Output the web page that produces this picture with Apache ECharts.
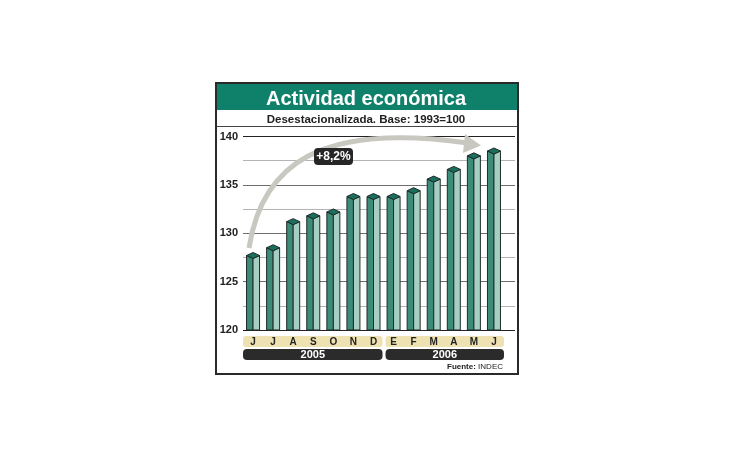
<!DOCTYPE html>
<html lang="es">
<head>
    <meta charset="UTF-8">
    <title>Actividad económica</title>
    <script src="https://cdn.jsdelivr.net/npm/echarts@6/dist/echarts.min.js"></script>
    <style>
        html, body { margin: 0; padding: 0; background: #fff; }
        #main { width: 730px; height: 460px; }
    </style>
</head>
<body>
<div id="main"></div>
<script type="text/javascript">
    // datos
    var meses = ['J', 'J', 'A', 'S', 'O', 'N', 'D', 'E', 'F', 'M', 'A', 'M', 'J'];
    var valores = [127.7, 128.5, 131.2, 131.8, 132.2, 133.8, 133.8, 133.8, 134.4, 135.6, 136.6, 138.0, 138.5];
    var anios = ['2005', '2006'];
    var mesesPorAnio = [7, 6];
    var yMin = 120, yMax = 140, yPaso = 5;

    var myChart = echarts.init(document.getElementById('main'));

    var fontNarrow = '"Liberation Sans Narrow", "Arial Narrow", Arial, sans-serif';
    var verdeOscuro = '#3d8b79', verdeClaro = '#a6cec2', verdeTapa = '#19705e', borde = '#1f2b28';

    function renderBar(params, api) {
        var top = api.coord([api.value(0), api.value(1)]);
        var base = api.coord([api.value(0), yMin]);
        var x = top[0], ty = top[1], by = base[1];
        var hw = 6.5, d = 3;
        return {
            type: 'group',
            children: [
                {
                    type: 'polygon',
                    shape: { points: [[x - hw, ty], [x, ty + d], [x, by], [x - hw, by]] },
                    style: { fill: verdeOscuro, stroke: borde, lineWidth: 1 }
                },
                {
                    type: 'polygon',
                    shape: { points: [[x, ty + d], [x + hw, ty], [x + hw, by], [x, by]] },
                    style: { fill: verdeClaro, stroke: borde, lineWidth: 1 }
                },
                {
                    type: 'polygon',
                    shape: { points: [[x - hw, ty], [x, ty - d], [x + hw, ty], [x, ty + d]] },
                    style: { fill: verdeTapa, stroke: borde, lineWidth: 1 }
                }
            ]
        };
    }

    // bandas de meses y de años
    var bandas = [];
    var x0 = 243, anchoCat = 261 / meses.length, acum = 0;
    for (var i = 0; i < anios.length; i++) {
        var xa = x0 + acum * anchoCat + (i > 0 ? 2 : 0);
        var w = mesesPorAnio[i] * anchoCat - (i > 0 ? 2 : 1);
        bandas.push({
            type: 'rect', z: 0,
            shape: { x: xa, y: 336, width: w, height: 11, r: 3 },
            style: { fill: '#eee2b3' }
        });
        bandas.push({
            type: 'rect', z: 0,
            shape: { x: xa, y: 349, width: w, height: 11, r: 4 },
            style: { fill: '#2b2b2b' }
        });
        bandas.push({
            type: 'text', z: 1,
            x: xa + w / 2, y: 354.5,
            style: {
                text: anios[i], fill: '#fff', font: 'bold 11px Arial, sans-serif',
                align: 'center', verticalAlign: 'middle'
            }
        });
        acum += mesesPorAnio[i];
    }

    var option = {
        backgroundColor: '#fff',
        animation: false,
        title: [
            {
                text: 'Actividad económica',
                left: 366, top: 89, textAlign: 'center', padding: 0,
                textStyle: { color: '#fff', fontSize: 20, fontWeight: 'bold', fontFamily: 'Arial, sans-serif' }
            },
            {
                text: 'Desestacionalizada. Base: 1993=100',
                left: 366, top: 113.5, textAlign: 'center', padding: 0,
                textStyle: { color: '#222', fontSize: 11.5, fontWeight: 'bold', fontFamily: 'Arial, sans-serif' }
            }
        ],
        grid: [
            { left: 243, width: 272, top: 136.5, height: 193.5 },
            { left: 243, width: 261, top: 136.5, height: 193.5 }
        ],
        xAxis: [
            { gridIndex: 0, type: 'value', min: 0, max: 1, show: false },
            {
                gridIndex: 1, type: 'category', data: meses,
                axisLine: { show: false }, axisTick: { show: false },
                axisLabel: {
                    margin: 7, color: '#222', fontSize: 10, fontWeight: 'bold',
                    fontFamily: 'Arial, sans-serif'
                }
            }
        ],
        yAxis: [
            {
                gridIndex: 0, type: 'value', min: yMin, max: yMax, interval: yPaso,
                axisLine: { show: false }, axisTick: { show: false },
                axisLabel: {
                    margin: 5, color: '#222', fontSize: 11, fontWeight: 'bold',
                    fontFamily: fontNarrow
                },
                splitLine: { lineStyle: { color: ['#222', '#6e6e6e', '#6e6e6e', '#6e6e6e', '#222'], width: 1 } },
                minorTick: { show: false, splitNumber: 2 },
                minorSplitLine: { show: true, lineStyle: { color: '#b4b4b4', width: 1 } }
            },
            { gridIndex: 1, type: 'value', min: yMin, max: yMax, show: false }
        ],
        graphic: [
            // marco
            {
                type: 'rect', z: 0,
                shape: { x: 216, y: 83, width: 302, height: 291 },
                style: { fill: null, stroke: '#2a2a2a', lineWidth: 2 }
            },
            {
                type: 'rect', z: 0,
                shape: { x: 217, y: 84, width: 300, height: 26 },
                style: { fill: '#0f8069' }
            },
            {
                type: 'line', z: 0,
                shape: { x1: 217, y1: 126.5, x2: 517, y2: 126.5 },
                style: { stroke: '#444', lineWidth: 1 }
            },
            // flecha
            {
                type: 'bezierCurve', z: 1,
                shape: { x1: 249, y1: 248, cpx1: 262, cpy1: 163, cpx2: 322, cpy2: 122, x2: 468, y2: 143 },
                style: { stroke: '#c8c8c1', lineWidth: 5, fill: null }
            },
            {
                type: 'polygon', z: 1,
                shape: { points: [[465, 134], [481, 145.5], [463, 153]] },
                style: { fill: '#c8c8c1' }
            },
            {
                type: 'rect', z: 2,
                shape: { x: 314, y: 148, width: 39, height: 17, r: 4 },
                style: { fill: '#262626' }
            },
            {
                type: 'text', z: 3,
                x: 333.5, y: 156.5,
                style: {
                    text: '+8,2%', fill: '#fff', font: 'bold 12px Arial, sans-serif',
                    align: 'center', verticalAlign: 'middle'
                }
            },
            {
                type: 'text', z: 3,
                x: 503, y: 367,
                style: {
                    text: '{b|Fuente:} INDEC', fill: '#222', font: '8px Arial, sans-serif',
                    align: 'right', verticalAlign: 'middle',
                    rich: { b: { fontWeight: 'bold', fontSize: 8, fill: '#222' } }
                }
            }
        ].concat(bandas),
        series: [
            {
                type: 'custom',
                xAxisIndex: 1, yAxisIndex: 1,
                z: 5,
                renderItem: renderBar,
                data: valores.map(function (v, i) { return [i, v]; })
            }
        ]
    };

    myChart.setOption(option);
</script>
</body>
</html>
